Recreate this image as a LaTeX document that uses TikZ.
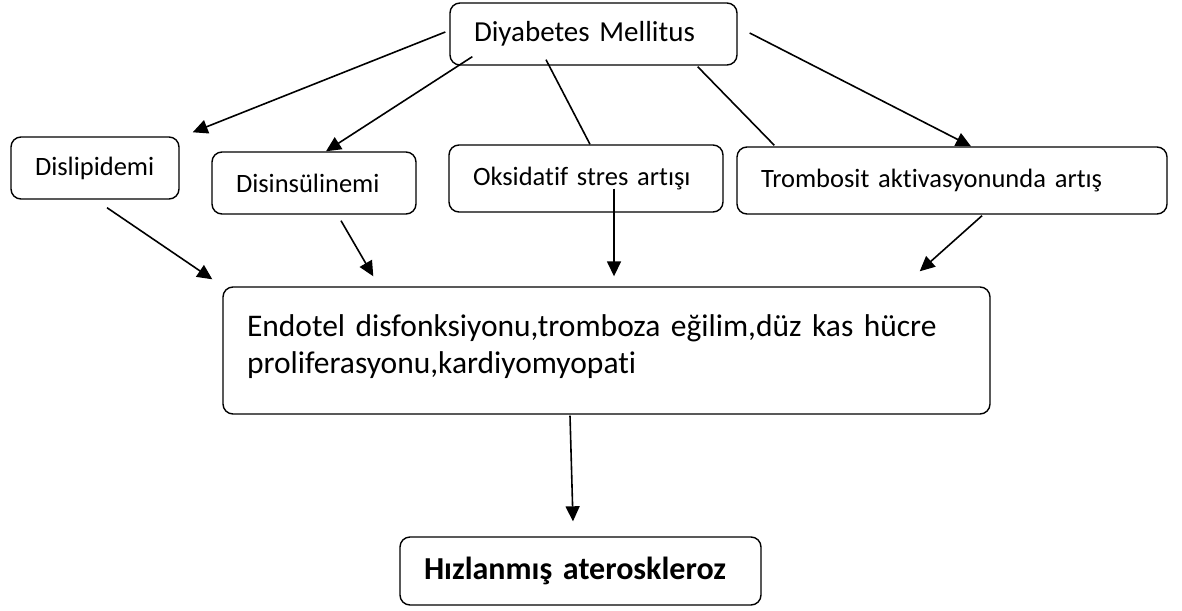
\documentclass[tikz,border=0pt]{standalone}
\usepackage{fontspec}
\setmainfont{Carlito}[Ligatures=NoCommon]
\usetikzlibrary{arrows.meta,calc}

\begin{document}
\begin{tikzpicture}[x=1pt,y=-1pt,
    box/.style={draw, rounded corners=10pt, line width=1.4pt, inner xsep=24pt, inner ysep=0pt, align=left},
    lbl/.style={font=\fontsize{26.5}{31}\selectfont},
    edgeline/.style={line width=1.6pt},
    edgearrow/.style={line width=1.6pt, -{Triangle[length=15pt,width=14pt]}}]
        \useasboundingbox (0,0) rectangle (1182,610);
        % boxes
        \node (dm) at (593.5,34) [box, text width=239pt, minimum height=62pt, font=\fontsize{29}{35}\selectfont] {Diyabetes Mellitus};
        \node (disl) at (95,168) [box, lbl, text width=120pt, minimum height=62pt] {Dislipidemi};
        \node (disins) at (314,183) [box, lbl, text width=156pt, minimum height=62pt] {Disinsülinemi};
        \node (oks) at (586,178.5) [box, lbl, text width=226pt, minimum height=67pt] {Oksidatif stres artışı};
        \node (tromb) at (952,180.5) [box, lbl, text width=382pt, minimum height=67pt] {Trombosit aktivasyonunda artış};
        \node (big) at (606.5,350.5) [box, text width=719pt, minimum height=127pt, text depth=50pt, font=\fontsize{31.5}{37}\selectfont] {Endotel disfonksiyonu,tromboza eğilim,düz kas hücre\\proliferasyonu,kardiyomyopati};
        \node (hiz) at (580.5,571) [box, text width=313pt, minimum height=68pt, font=\fontsize{32}{38}\selectfont\bfseries] {Hızlanmış ateroskleroz};
        % from Diyabetes Mellitus
        \draw[edgearrow] ($(dm.west)+(-4,-2)$) -- ($(disl.north east)+(13,-4)$);
        \draw[edgearrow] ($(dm.south west)+(23,-9)$) -- ($(disins.north)+(12,0)$);
        \draw[edgeline] ($(dm.south)+(-47.5,-6)$) -- ($(oks.north)+(4,0)$);
        \draw[edgeline] ($(dm.south east)+(-40,1)$) -- ($(tromb.north west)+(38,-1)$);
        \draw[edgearrow] ($(dm.east)+(12,-1)$) -- ($(tromb.north)+(19,0)$);
        % into the big box
        \draw[edgearrow] ($(disl.south)+(12,8)$) -- ($(big.north west)+(-10,-7)$);
        \draw[edgearrow] ($(disins.south)+(27,6)$) -- ($(big.north west)+(151,-10)$);
        \draw[edgearrow] ($(oks.center)+(28,10)$) -- ($(big.north)+(7.5,-10)$);
        \draw[edgearrow] ($(tromb.south)+(30,1)$) -- ($(big.north east)+(-71,-15)$);
        % result
        \draw[edgearrow] ($(big.south)+(-36.5,1)$) -- ($(hiz.north)+(-7.5,-15)$);
\end{tikzpicture}
\end{document}
